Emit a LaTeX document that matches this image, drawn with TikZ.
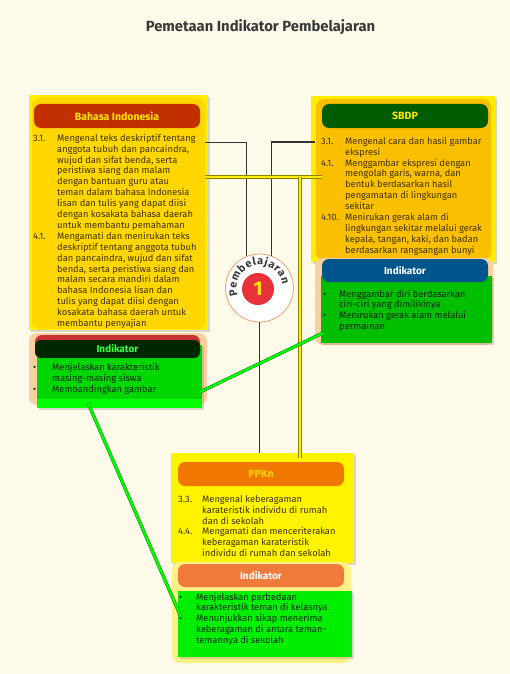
\documentclass[tikz,border=0pt]{standalone}
\usepackage{fontspec}
\setmainfont{Fira Sans}
\usetikzlibrary{
	positioning,
	shadows,
	decorations.text
}

\definecolor{PageBg}{RGB}{253,250,233}
\definecolor{YellowOut}{RGB}{255,236,0}
\definecolor{YellowIn}{RGB}{255,214,0}
\definecolor{OrangeIn}{RGB}{250,192,0}
\definecolor{PpknYellow}{RGB}{255,243,0}
\definecolor{BindoRed}{RGB}{194,48,0}
\definecolor{SbdpGreen}{RGB}{0,92,0}
\definecolor{PpknOrange}{RGB}{240,120,0}
\definecolor{HeadText}{RGB}{255,232,0}
\definecolor{PpknHead}{RGB}{255,210,0}
\definecolor{Peach}{RGB}{250,208,160}
\definecolor{PaleYellow}{RGB}{255,240,135}
\definecolor{IndRed}{RGB}{200,50,50}
\definecolor{IndDark}{RGB}{0,40,0}
\definecolor{IndBlue}{RGB}{0,86,140}
\definecolor{IndOrange}{RGB}{240,122,60}
\definecolor{GreenA}{RGB}{0,215,0}
\definecolor{GreenB}{RGB}{0,190,0}
\definecolor{GreenC}{RGB}{0,238,0}
\definecolor{GreenBright}{RGB}{0,255,0}
\definecolor{IndText}{RGB}{60,255,60}
\definecolor{TextDark}{RGB}{65,50,5}
\definecolor{TitleGrey}{RGB}{58,58,58}
\definecolor{RingOrange}{RGB}{240,160,110}
\definecolor{BadgeRed}{RGB}{232,50,58}

\newcommand{\ListFont}{\fontsize{9.3}{10.9}\selectfont}
\newcommand{\Lines}[1]{\begin{tabular}[t]{@{}l@{}}#1\end{tabular}}

\begin{document}
\begin{tikzpicture}[x=1pt, y=-1pt,
		Panel/.style={anchor=north west, inner sep=0pt, outer sep=0pt},
		Shade/.style={drop shadow={shadow xshift=2pt, shadow yshift=-2pt, opacity=.3}},
		HeadBar/.style={Panel, rounded corners=7pt, minimum width=166pt, minimum height=24pt, font=\bfseries\fontsize{10.5}{12}\selectfont},
		NumText/.style={anchor=base west, inner sep=0pt, font=\ListFont, text=TextDark},
		ItemText/.style={NumText},
		BlackLink/.style={draw=black!80, line width=.8pt},
		YellowLink/.style={draw=YellowOut!55!black, line width=.4pt, double=YellowOut, double distance=2.4pt},
		GreenLink/.style={draw=GreenA!45!black, line width=.4pt, double=GreenBright, double distance=2.4pt}]
	\fill[PageBg] (0,0) rectangle (510,674);
	\useasboundingbox (0,0) rectangle (510,674);

	\node[font=\bfseries\fontsize{14.8}{17}\selectfont, text=TitleGrey] (title) at (260.5,27) {Pemetaan Indikator Pembelajaran};

	% Bahasa Indonesia
	\node[Panel, Shade, fill=YellowOut, minimum width=179pt, minimum height=235pt] (bindo) at (29,95) {};
	\node[Panel, fill=YellowIn, rounded corners=8pt, minimum width=173pt, minimum height=231pt] (bindoIn) at (32,98) {};
	\node[HeadBar, fill=BindoRed, text=HeadText] (bindoHead) at (34,104) {Bahasa Indonesia};
	\node[NumText] (bi31n) at (33,141.2) {3.1.};
	\node[ItemText] (bi31) at (57,141.2) {\Lines{Mengenal teks deskriptif tentang\\anggota tubuh dan pancaindra,\\wujud dan sifat benda, serta\\peristiwa siang dan malam\\dengan bantuan guru atau\\teman dalam bahasa Indonesia\\lisan dan tulis yang dapat diisi\\dengan kosakata bahasa daerah\\untuk membantu pemahaman}};
	\node[NumText] (bi41n) at (33,239.3) {4.1.};
	\node[ItemText] (bi41) at (57,239.3) {\Lines{Mengamati dan menirukan teks\\deskriptif tentang anggota tubuh\\dan pancaindra, wujud dan sifat\\benda, serta peristiwa siang dan\\malam secara mandiri dalam\\bahasa Indonesia lisan dan\\tulis yang dapat diisi dengan\\kosakata bahasa daerah untuk\\membantu penyajian}};

	% Indikator Bahasa Indonesia
	\node[Panel, fill=Peach, rounded corners=8pt, minimum width=178pt, minimum height=72pt] (biIndBg) at (29,333) {};
	\node[Panel, fill=IndRed, rounded corners=7pt, minimum width=165pt, minimum height=22pt] (biIndTop) at (35,335) {};
	\node[Panel, Shade, fill=GreenA, minimum width=165pt, minimum height=63pt] (biIndBody) at (37,345) {};
	\node[Panel, fill=GreenBright, minimum width=165pt, minimum height=9pt] (biIndBand) at (37,399) {};
	\node[Panel, fill=IndDark, rounded corners=6pt, minimum width=165pt, minimum height=18pt, text=IndText, font=\bfseries\fontsize{10}{11}\selectfont] (biIndHead) at (35,340) {Indikator};
	\node[NumText, text=IndDark] (biB1) at (33,370.5) {•};
	\node[NumText, text=IndDark] (biB2) at (33,392.3) {•};
	\node[ItemText, text=IndDark] (biInd) at (52,370.5) {\Lines{Menjelaskan karakteristik\\masing-masing siswa\\Membandingkan gambar}};

	% SBDP
	\node[Panel, Shade, fill=YellowOut, minimum width=184pt, minimum height=166pt] (sbdp) at (311,96) {};
	\node[Panel, fill=OrangeIn, rounded corners=8pt, minimum width=175pt, minimum height=161pt] (sbdpIn) at (316,99) {};
	\node[HeadBar, fill=SbdpGreen, text=HeadText] (sbdpHead) at (322,104) {SBDP};
	\node[NumText] (sb31n) at (321,144.2) {3.1.};
	\node[ItemText] (sb31) at (345,144.2) {\Lines{Mengenal cara dan hasil gambar\\ekspresi}};
	\node[NumText] (sb41n) at (321,166) {4.1.};
	\node[ItemText] (sb41) at (345,166) {\Lines{Menggambar ekspresi dengan\\mengolah garis, warna, dan\\bentuk berdasarkan hasil\\pengamatan di lingkungan\\sekitar}};
	\node[NumText] (sb410n) at (321,220.5) {4.10.};
	\node[ItemText] (sb410) at (345,220.5) {\Lines{Menirukan gerak alam di\\lingkungan sekitar melalui gerak\\kepala, tangan, kaki, dan badan\\berdasarkan rangsangan bunyi}};

	% Indikator SBDP
	\node[Panel, fill=Peach, rounded corners=8pt, minimum width=178pt, minimum height=87pt] (sbIndBg) at (315,258) {};
	\node[Panel, Shade, fill=GreenB, minimum width=171pt, minimum height=67pt] (sbIndBody) at (321,276) {};
	\node[Panel, fill=IndBlue, rounded corners=7pt, minimum width=166pt, minimum height=23pt, text=white, font=\bfseries\fontsize{10}{11}\selectfont] (sbIndHead) at (322,259) {Indikator};
	\node[NumText, text=IndDark] (sbB1) at (323,297) {•};
	\node[NumText, text=IndDark] (sbB2) at (323,318.8) {•};
	\node[ItemText, text=IndDark] (sbInd) at (339,297) {\Lines{Menggambar diri berdasarkan\\ciri-ciri yang dimilikinya\\Menirukan gerak alam melalui\\permainan}};

	% PPKn
	\node[Panel, Shade, fill=PpknYellow, minimum width=183pt, minimum height=110pt] (ppkn) at (171,453) {};
	\node[HeadBar, fill=PpknOrange, text=PpknHead] (ppknHead) at (178,462) {PPKn};
	\node[NumText] (pp33n) at (178,502.2) {3.3.};
	\node[ItemText] (pp33) at (202,502.2) {\Lines{Mengenal keberagaman\\karateristik individu di rumah\\dan di sekolah}};
	\node[NumText] (pp44n) at (178,534.8) {4.4.};
	\node[ItemText] (pp44) at (202,534.8) {\Lines{Mengamati dan menceriterakan\\keberagaman karateristik\\individu di rumah dan sekolah}};

	% Indikator PPKn
	\node[Panel, fill=PaleYellow, rounded corners=8pt, minimum width=179pt, minimum height=101pt] (ppIndBg) at (172,562) {};
	\node[Panel, fill=IndOrange, rounded corners=7pt, minimum width=166pt, minimum height=23pt, text=white, font=\bfseries\fontsize{10}{11}\selectfont] (ppIndHead) at (178,564) {Indikator};
	\node[Panel, Shade, fill=GreenC, minimum width=174pt, minimum height=66pt] (ppIndBody) at (178,591) {};
	\node[NumText, text=IndDark] (ppB1) at (179,600) {•};
	\node[NumText, text=IndDark] (ppB2) at (179,621.8) {•};
	\node[ItemText, text=IndDark] (ppInd) at (196,600) {\Lines{Menjelaskan perbedaan\\karakteristik teman di kelasnya\\Menunjukkan sikap menerima\\keberagaman di antara teman-\\temannya di sekolah}};

	% connectors
	\coordinate (biTap) at (205,142);
	\coordinate (sbTap) at (315,142);
	\coordinate (biTapY) at (205,177);
	\coordinate (sbTapY) at (322,177);
	\coordinate (yJoin) at (300,177);
	\coordinate (gStartA) at (200,392);
	\coordinate (gEndA) at (323,333);
	\coordinate (gStartB) at (88,403);
	\coordinate (gEndB) at (181,617);

	\node[circle, fill=white, draw=RingOrange, line width=.8pt, minimum size=68pt, inner sep=0pt] (ring) at (259.5,288) {};

	\draw[BlackLink] (biTap) -| (ring.113);
	\draw[BlackLink, line width=1.3pt] (sbTap) -| (ring.70);
	\draw[BlackLink] (ring.south) -- (ring.south |- ppkn.north);
	\draw[YellowLink] (biTapY) -- (sbTapY);
	\draw[YellowLink] (yJoin) -- ([yshift=-5pt]yJoin |- ppkn.north);
	\draw[GreenLink] (gStartA) -- (gEndA);
	\draw[GreenLink] (gStartB) -- (gEndB);

	% Pembelajaran 1
	\node[circle, fill=BadgeRed, minimum size=32pt, inner sep=0pt, text=HeadText, font=\bfseries\fontsize{20}{20}\selectfont] (badge) at (258,289) {1};
	\path[decorate, decoration={text along path, text align=fit to path,
		text={|\bfseries\fontsize{11}{12}\selectfont\color{TitleGrey}|Pembelajaran}}]
		([shift={(200:23pt)}]ring.center) arc[start angle=200, end angle=8, radius=23pt];
\end{tikzpicture}
\end{document}
